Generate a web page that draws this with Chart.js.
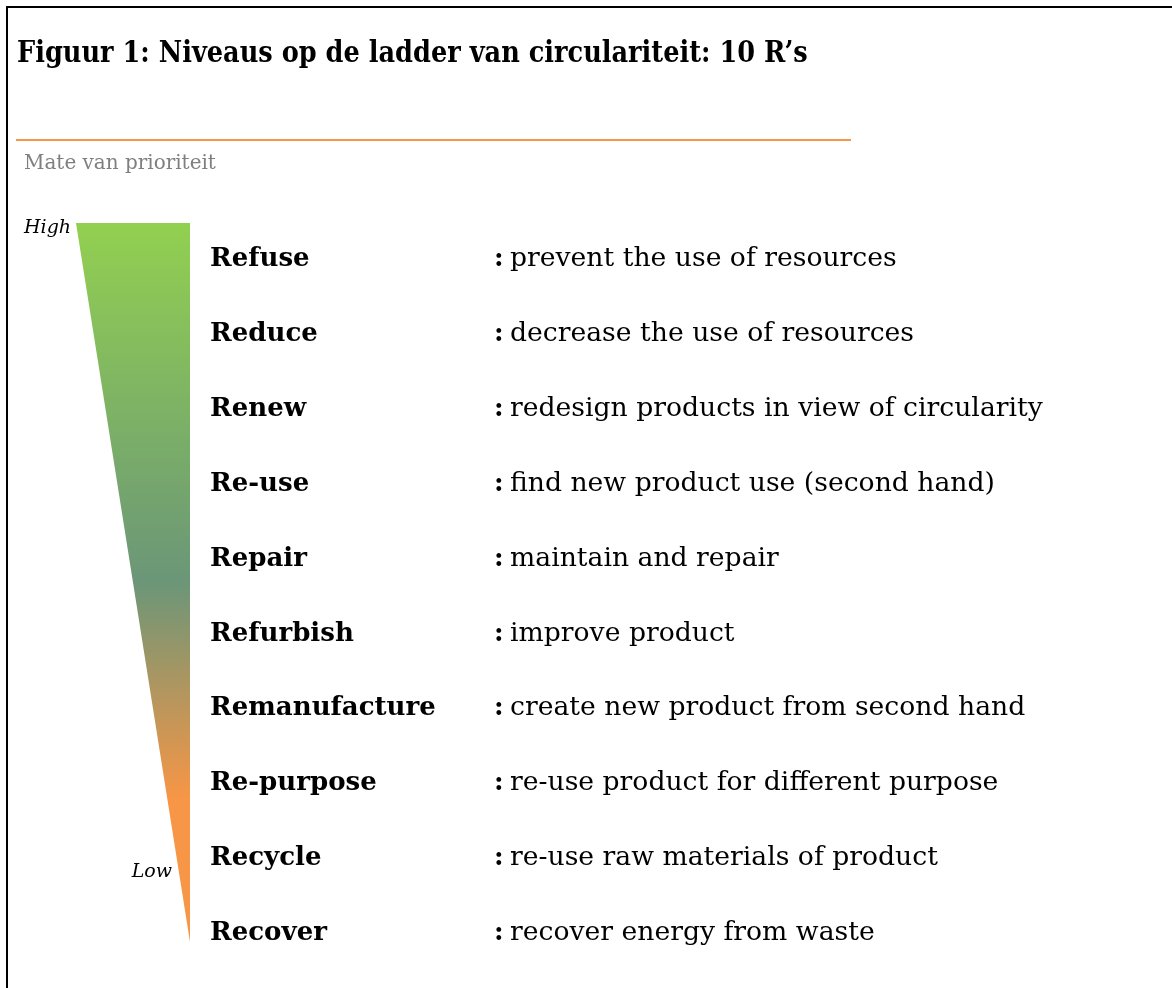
<!DOCTYPE html>
<html>
<head>
<meta charset="utf-8">
<script src="https://cdn.jsdelivr.net/npm/chart.js@4.4.1/dist/chart.umd.min.js"></script>
<style>
html,body{margin:0;padding:0;background:#fff;overflow:hidden;}
#wrap{position:absolute;left:0;top:0;width:1172px;height:988px;}
</style>
</head>
<body>
<div id="wrap"><canvas id="c" width="1172" height="988"></canvas></div>
<script>
// ---- data ----
const chartTitle = 'Figuur 1: Niveaus op de ladder van circulariteit: 10 R’s';
const axisTitle = 'Mate van prioriteit';
const levels = ['Refuse','Reduce','Renew','Re-use','Repair','Refurbish','Remanufacture','Re-purpose','Recycle','Recover'];
const descriptions = [
  'prevent the use of resources',
  'decrease the use of resources',
  'redesign products in view of circularity',
  'find new product use (second hand)',
  'maintain and repair',
  'improve product',
  'create new product from second hand',
  're-use product for different purpose',
  're-use raw materials of product',
  'recover energy from waste'
];
const priorityLabels = ['High','Low'];
// ladder shape in (priority width, row) units: wide at the top, a point at the bottom
const ladderX = [-1, 0, 0, -1];
const ladderY = [-0.454, -0.454, 9.146, -0.454];
const gradientStops = [[0,'#92D050'],[0.5,'#6B9678'],[0.8,'#F79646'],[1,'#F79646']];

const FAMILY = '"DejaVu Serif", serif';

function fitSize(ctx, style, text, target){
  ctx.font = style + ' 100px ' + FAMILY;
  return 100 * target / ctx.measureText(text).width;
}

const textPlugin = {
  id: 'ladderText',
  afterDraw(chart){
    const ctx = chart.ctx;
    const xs = chart.scales.x, ys = chart.scales.y;
    ctx.save();
    // frame
    ctx.fillStyle = '#000';
    ctx.fillRect(6, 6, chart.width - 6, 2);
    ctx.fillRect(6, 6, 2, chart.height - 6);
    ctx.textAlign = 'left'; ctx.textBaseline = 'alphabetic';
    // title
    const tSize = fitSize(ctx, 'bold', chartTitle, 791);
    ctx.font = 'bold ' + tSize + 'px ' + FAMILY;
    ctx.fillStyle = '#000';
    ctx.save();
    ctx.translate(17, 62);
    ctx.scale(1, 1.14);
    ctx.fillText(chartTitle, 0, 0);
    ctx.restore();
    // orange rule
    ctx.fillStyle = '#F79646';
    ctx.fillRect(16, 139, 835, 2);
    // axis title
    const sSize = fitSize(ctx, 'normal', axisTitle, 192);
    ctx.font = sSize + 'px ' + FAMILY;
    ctx.fillStyle = '#7F7F7F';
    ctx.fillText(axisTitle, 24, 169);
    // priority labels
    const right = xs.getPixelForValue(0);
    const left = xs.getPixelForValue(-1);
    const topPx = ys.getPixelForValue(ladderY[0]);
    const hSize = fitSize(ctx, 'italic', priorityLabels[0], 47);
    ctx.font = 'italic ' + hSize + 'px ' + FAMILY;
    ctx.fillStyle = '#000';
    ctx.textAlign = 'right';
    ctx.fillText(priorityLabels[0], left - 5, topPx + 10);
    ctx.fillText(priorityLabels[1], right - 18, ys.getPixelForValue(8.18) + 7);
    // rows
    const nSize = fitSize(ctx, 'bold', 'Remanufacture', 226);
    const dSize = fitSize(ctx, 'normal', descriptions[2], 533);
    ctx.textAlign = 'left';
    levels.forEach((name, i) => {
      const y = ys.getPixelForValue(i) + 9;
      ctx.font = 'bold ' + nSize + 'px ' + FAMILY;
      ctx.fillText(name, right + 20, y);
      ctx.fillText(':', right + 304, y);
      ctx.font = dSize + 'px ' + FAMILY;
      ctx.fillText(descriptions[i], right + 320, y);
    });
    ctx.restore();
  }
};

const ctx = document.getElementById('c').getContext('2d');
new Chart(ctx, {
  type: 'line',
  data: {
    datasets: [{
      data: ladderX.map((x, i) => ({x: x, y: ladderY[i]})),
      borderWidth: 0,
      borderColor: 'rgba(0,0,0,0)',
      pointRadius: 0,
      tension: 0,
      fill: 'shape',
      backgroundColor: (c) => {
        const ch = c.chart;
        if (!ch.chartArea) return '#92D050';
        const ys = ch.scales.y;
        const g = ch.ctx.createLinearGradient(0, ys.getPixelForValue(ladderY[0]), 0, ys.getPixelForValue(ladderY[2]));
        gradientStops.forEach(s => g.addColorStop(s[0], s[1]));
        return g;
      }
    }]
  },
  options: {
    responsive: false,
    animation: false,
    devicePixelRatio: 1,
    layout: {padding: 0},
    plugins: {legend: {display: false}, tooltip: {enabled: false}, title: {display: false}},
    scales: {
      x: {type: 'linear', display: false, min: -190/114, max: (1172-190)/114},
      y: {type: 'linear', display: false, reverse: true, min: -257/74.9, max: (988-257)/74.9}
    }
  },
  plugins: [textPlugin]
});
</script>
</body>
</html>
